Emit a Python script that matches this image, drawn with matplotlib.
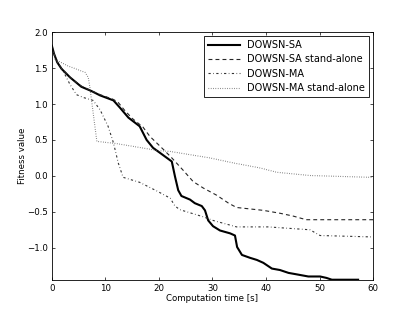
import matplotlib
matplotlib.use('Agg')
import matplotlib.pyplot as plt

# DOWSN-SA
t_sa = [0, 0.4, 1.0, 1.8, 3.4, 5.5, 7.4, 9.0, 11.5, 12.7, 14.3, 16.4, 17.7, 18.9,
        20.2, 22.4, 23.0, 23.6, 24.2, 25.8, 26.7, 28.0, 28.6, 29.2, 30.1, 31.4,
        33.3, 34.2, 34.6, 35.5, 37.0, 38.3, 39.5, 41.1, 42.6, 44.2, 45.7, 47.9,
        50.1, 51.3, 52.3, 57.2]
y_sa = [1.81, 1.70, 1.58, 1.49, 1.37, 1.24, 1.18, 1.12, 1.05, 0.95, 0.81, 0.69, 0.50, 0.39,
        0.32, 0.20, -0.01, -0.20, -0.28, -0.33, -0.38, -0.42, -0.48, -0.62, -0.70, -0.76,
        -0.80, -0.83, -0.99, -1.10, -1.14, -1.17, -1.21, -1.29, -1.31, -1.35, -1.37, -1.40,
        -1.40, -1.42, -1.445, -1.445]

# DOWSN-SA stand-alone
t_sa_alone = [0, 0.5, 1.2, 2.0, 3.5, 5.5, 7.5, 9.0, 11.3, 12.3, 13.5, 15.0, 17.0, 18.3,
              20.8, 22.4, 24.5, 26.4, 28.3, 30.8, 33.0, 34.5, 37.0, 39.5, 42.6, 45.1,
              47.5, 60]
y_sa_alone = [1.80, 1.68, 1.56, 1.48, 1.36, 1.25, 1.18, 1.13, 1.07, 1.03, 0.92, 0.80, 0.68, 0.55,
              0.37, 0.25, 0.08, -0.08, -0.17, -0.27, -0.38, -0.44, -0.46, -0.48, -0.52, -0.56,
              -0.61, -0.61]

# DOWSN-MA
t_ma = [0, 0.5, 1.2, 2.1, 3.4, 4.6, 5.9, 7.7, 9.0, 10.5, 11.5, 12.4, 13.3, 16.4,
        19.6, 22.1, 23.0, 23.9, 25.2, 28.3, 30.1, 34.5, 40.4, 48.2, 50.1, 60]
y_ma = [1.80, 1.68, 1.56, 1.46, 1.27, 1.13, 1.09, 1.05, 0.92, 0.69, 0.46, 0.18, -0.02, -0.09,
        -0.21, -0.31, -0.42, -0.47, -0.50, -0.57, -0.62, -0.71, -0.71, -0.75, -0.83, -0.85]

# DOWSN-MA stand-alone
t_ma_alone = [0, 0.6, 3.0, 6.2, 6.8, 7.1, 8.4, 12.0, 16.0, 20.0, 22.1, 29.5, 33.9,
              38.9, 42.0, 48.2, 59.4, 60]
y_ma_alone = [1.78, 1.62, 1.53, 1.44, 1.37, 1.23, 0.48, 0.45, 0.40, 0.35, 0.34, 0.25, 0.18,
              0.11, 0.05, 0.005, -0.02, -0.02]

yticks = [-1.0, -0.5, 0.0, 0.5, 1.0, 1.5, 2.0]
xticks = [0, 10, 20, 30, 40, 50, 60]

fig = plt.figure(figsize=(4.15, 3.12), dpi=100)
ax = fig.add_axes([0.125, 0.103, 0.774, 0.794])

ax.plot(t_sa, y_sa, '-', color='black', linewidth=1.5, label='DOWSN-SA')
ax.plot(t_sa_alone, y_sa_alone, color='0.15', linewidth=0.8, dashes=(3.5, 2.8),
        label='DOWSN-SA stand-alone')
ax.plot(t_ma, y_ma, color='0.2', linewidth=0.8, dashes=(2.0, 2.2, 0.6, 2.2),
        label='DOWSN-MA')
ax.plot(t_ma_alone, y_ma_alone, color='0.35', linewidth=0.8, dashes=(0.6, 1.5),
        label='DOWSN-MA stand-alone')

ax.set_xlim(0, 60)
ax.set_ylim(-1.447, 2.0)
ax.set_xticks(xticks)
ax.set_yticks(yticks)
ax.tick_params(direction='in', length=2.5, width=0.5, labelsize=6.2, top=True, right=True, pad=3)
for s in ax.spines.values():
    s.set_linewidth(0.6)

ax.set_xlabel('Computation time [s]', fontsize=6.2, labelpad=0.5)
ax.set_ylabel('Fitness value', fontsize=6.2, labelpad=0)

leg = ax.legend(loc='upper right', fontsize=7, fancybox=False, edgecolor='black',
                framealpha=1, handlelength=3.3, borderaxespad=0.4, labelspacing=0.45,
                borderpad=0.4)
leg.get_frame().set_linewidth(0.6)

fig.savefig('out.png', dpi=100)
